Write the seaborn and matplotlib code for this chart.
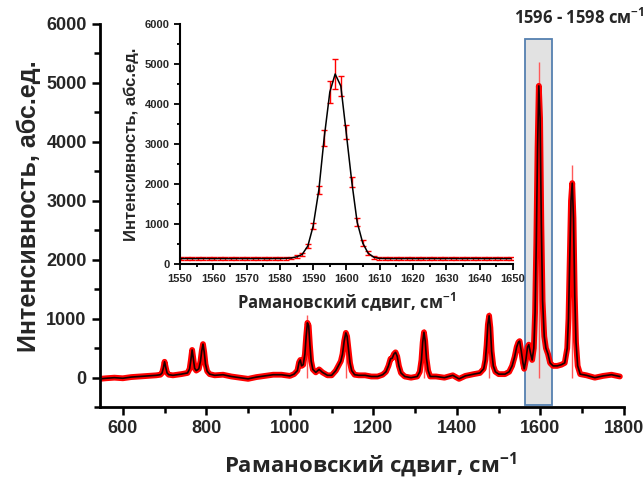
import pandas as pd
import matplotlib
matplotlib.use("Agg")
import matplotlib.pyplot as plt
import seaborn as sns
from matplotlib.patches import Rectangle
from matplotlib.ticker import MultipleLocator

# main spectrum (fit curve)
shift = [545, 560, 580, 600, 620, 640, 660, 680, 690,
         694, 697, 700, 703, 706, 710, 720, 740, 755,
         760, 763, 766, 769, 772, 776,
         782, 786, 789, 792, 795, 798, 802, 808,
         820, 840, 860, 880, 900, 920, 940, 960, 980, 1000, 1010,
         1018, 1022, 1025, 1028,
         1032, 1036, 1039, 1042, 1045, 1048, 1051, 1055,
         1062, 1070, 1078, 1090, 1100, 1110, 1116, 1122,
         1126, 1130, 1134, 1137, 1140, 1144, 1148, 1155,
         1165, 1180, 1195, 1210, 1222, 1230,
         1236, 1241, 1245, 1249, 1253, 1257, 1261, 1266,
         1275, 1290, 1305,
         1311, 1315, 1318, 1321, 1324, 1327, 1331, 1336,
         1350, 1370, 1390, 1405, 1420, 1440, 1455,
         1464, 1468, 1471, 1474, 1477, 1480, 1483, 1487, 1492,
         1500, 1515, 1525, 1532, 1538, 1543,
         1547, 1550, 1554, 1558, 1561, 1565, 1569, 1572, 1576, 1580,
         1584, 1587, 1590, 1593, 1596, 1599, 1602, 1605, 1609, 1613,
         1618, 1623, 1630, 1640, 1650, 1658,
         1664, 1667, 1670, 1673, 1676, 1679, 1682, 1685, 1689, 1695,
         1710, 1730, 1750, 1770, 1790]
intensity = [-20, -10, 0, -10, 10, 20, 30, 40, 50,
             80, 160, 270, 170, 80, 50, 40, 60, 80,
             150, 300, 470, 320, 160, 120,
             150, 280, 450, 570, 430, 230, 110, 60,
             40, 50, 20, 0, -20, 10, 30, 50, 50, 30, 60,
             120, 260, 300, 200,
             220, 400, 700, 930, 880, 550, 280, 140,
             90, 140, 90, 40, 40, 120, 200, 280,
             400, 620, 760, 700, 500, 250, 120, 50,
             40, 40, 20, 20, 50, 100,
             200, 320, 330, 400, 430, 360, 200, 80,
             20, 0, 20,
             100, 300, 600, 770, 620, 330, 120, 20,
             20, 0, 40, -20, 30, 60, 80,
             150, 300, 550, 900, 1050, 850, 450, 200, 100,
             60, 60, 100, 200, 350, 520,
             600, 620, 450, 250, 150, 300, 520, 560, 420, 300,
             500, 1100, 2300, 3900, 4950, 4400, 2600, 1300, 700, 500,
             400, 250, 200, 200, 220, 250,
             500, 1000, 2000, 3000, 3300, 2700, 1400, 600, 200, 60,
             40, 0, 30, 50, 20]

# measured maxima that stick out above the fit
spike_shift = [1042, 1134, 1321, 1477, 1596, 1676]
spike_top = [1060, 800, 830, 1110, 5350, 3600]

# inset: the 1597 band with error bars
band_shift = [1550.4, 1552.1, 1553.7, 1555.4, 1557.0, 1558.7, 1560.3, 1562.0,
              1563.6, 1565.3, 1566.9, 1568.6, 1570.2, 1571.9, 1573.5, 1575.2,
              1576.8, 1578.5, 1580.1, 1581.8, 1583.4,
              1585.1, 1586.7, 1588.4, 1590.0, 1591.7, 1593.3, 1595.0, 1596.6,
              1598.3, 1599.9, 1601.6, 1603.2, 1604.9, 1606.5, 1608.2, 1609.8,
              1611.5, 1613.1, 1614.8, 1616.4, 1618.1, 1619.7, 1621.4, 1623.0,
              1624.7, 1626.3, 1628.0, 1629.6, 1631.3, 1632.9, 1634.6, 1636.2,
              1637.9, 1639.5, 1641.2, 1642.8, 1644.5, 1646.1, 1647.8, 1649.4]
band_int = [135, 136, 134, 135, 137, 135, 134, 136, 135, 134, 136, 135,
            135, 134, 136, 135, 134, 137, 136, 140, 150,
            180, 240, 450, 950, 1850, 3150, 4300, 4750,
            4450, 3300, 2050, 1050, 520, 270, 170, 140,
            136, 135, 135, 134, 136, 135, 134, 135,
            136, 135, 134, 135, 136, 135, 134, 135,
            136, 135, 135, 134, 136, 135, 134, 135]
band_err = [30] * 21 + [35, 45, 55, 70, 90, 190, 280, 380,
                        250, 170, 130, 105, 75, 50, 35, 30] + [30] * 24

spec = pd.DataFrame({"shift": shift, "intensity": intensity})
band = pd.DataFrame({"shift": band_shift, "intensity": band_int})

sns.set_style("ticks")
plt.rcParams["font.family"] = ["Liberation Sans", "DejaVu Sans"]
plt.rcParams["font.weight"] = "bold"
plt.rcParams["mathtext.fontset"] = "custom"
plt.rcParams["mathtext.rm"] = "Open Sans:bold"
plt.rcParams["mathtext.it"] = "Open Sans:bold"
plt.rcParams["mathtext.bf"] = "Open Sans:bold"
plt.rcParams["mathtext.default"] = "rm"
label_font = ["Open Sans", "DejaVu Sans"]
unit = "см$^{-1}$"

fig = plt.figure(figsize=(6.44, 4.79), dpi=100)
ax = fig.add_axes([0.155, 0.150, 0.814, 0.800])

ax.add_patch(Rectangle((1562, -470), 66, 6220, facecolor="#e2e2e2",
                       edgecolor="#5580b0", lw=1.3, zorder=0.5))
ax.vlines(spike_shift, 0, spike_top, color="#ff5a5a", lw=1.0, zorder=1.5)
sns.lineplot(data=spec, x="shift", y="intensity", ax=ax, color="#ff0000",
             lw=4.2, sort=False, estimator=None, zorder=2)
sns.lineplot(data=spec, x="shift", y="intensity", ax=ax, color="#1a0000",
             lw=1.2, sort=False, estimator=None, zorder=3)

ax.set_xlim(545, 1800)
ax.set_ylim(-500, 6000)
ax.xaxis.set_major_locator(MultipleLocator(200))
ax.xaxis.set_minor_locator(MultipleLocator(100))
ax.yaxis.set_major_locator(MultipleLocator(1000))
ax.yaxis.set_minor_locator(MultipleLocator(500))
ax.tick_params(which="both", direction="out", width=1.8, labelsize=13, color="black")
ax.tick_params(which="major", length=6)
ax.tick_params(which="minor", length=4)
for s in ["left", "bottom"]:
    ax.spines[s].set_linewidth(2)
    ax.spines[s].set_color("black")
sns.despine(ax=ax)
ax.set_xlabel("")
ax.set_ylabel("")

fig.text(0.575, 0.030, "Рамановский сдвиг, " + unit, ha="center", va="center",
         fontsize=16, family=label_font, weight="bold")
fig.text(0.045, 0.57, "Интенсивность, абс.ед.", ha="center", va="center",
         rotation=90, fontsize=18, weight="bold")
fig.text(0.90, 0.962, "1596 - 1598 " + unit, ha="center", va="center",
         fontsize=12, family=label_font, weight="bold")

# inset
ins = fig.add_axes([0.2795, 0.4489, 0.517, 0.501])
ins.errorbar(band["shift"], band["intensity"], yerr=band_err, fmt="none",
             ecolor="#ff0000", elinewidth=1.0, capsize=2.2, capthick=1.0, zorder=2)
sns.lineplot(data=band, x="shift", y="intensity", ax=ins, color="black",
             lw=1.1, sort=False, estimator=None, zorder=3)
ins.set_xlim(1550, 1650)
ins.set_ylim(0, 6000)
ins.xaxis.set_major_locator(MultipleLocator(10))
ins.xaxis.set_minor_locator(MultipleLocator(5))
ins.yaxis.set_major_locator(MultipleLocator(1000))
ins.yaxis.set_minor_locator(MultipleLocator(500))
ins.tick_params(which="both", direction="out", width=1.3, labelsize=8, color="black")
ins.tick_params(which="major", length=4)
ins.tick_params(which="minor", length=2.5)
for s in ["left", "bottom"]:
    ins.spines[s].set_linewidth(1.5)
    ins.spines[s].set_color("black")
sns.despine(ax=ins)
ins.set_xlabel("Рамановский сдвиг, " + unit, fontsize=12, family=label_font,
               weight="bold", labelpad=4)
ins.set_ylabel("Интенсивность, абс.ед.", fontsize=12, weight="bold", labelpad=4)

fig.savefig("out.png", dpi=100)
